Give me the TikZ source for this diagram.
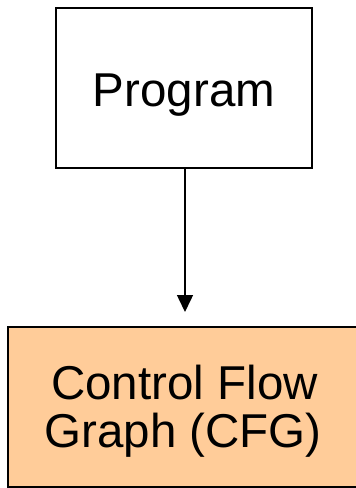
\documentclass[tikz,border=0pt]{standalone}
\usepackage{fontspec}
\setmainfont{Liberation Sans}
\usetikzlibrary{arrows.meta}
\definecolor{cfgfill}{HTML}{FFCC99}
\tikzset{
  box/.style={draw=black, line width=2pt, inner sep=0pt},
  label text/.style={font=\fontsize{47.5pt}{48pt}\selectfont, anchor=base, inner sep=0pt},
  flow/.style={draw=black, line width=1.5pt, -{Triangle[length=17pt,width=16pt]}}
}
\begin{document}
\begin{tikzpicture}[x=1pt,y=-1pt]
  \useasboundingbox (0,0) rectangle (356,488);
  \begin{scope}
    \clip (0,0) rectangle (356,488);
    % source program box
    \node[box, fill=white, minimum width=256.5pt, minimum height=160pt] (prog) at (183.75,87.5) {};
    % control flow graph box (runs off the right edge)
    \node[box, fill=cfgfill, minimum width=349.5pt, minimum height=159.5pt] (cfg) at (182.25,406.75) {};
  \end{scope}
  \node[label text] (progtxt) at (184,106.7) {Program};
  \node[label text] (cfgline1) at (184.5,399) {Control Flow};
  \node[label text] (cfgline2) at (183,447.3) {Graph (CFG)};
  % arrow from program to its graph
  \coordinate (tip) at (185,312);
  \draw[flow] (prog.south -| tip) -- (tip);
\end{tikzpicture}
\end{document}
